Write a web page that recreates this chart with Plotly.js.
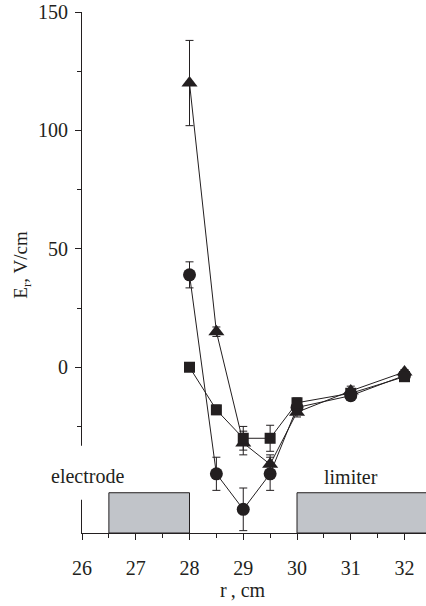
<!DOCTYPE html>
<html>
<head>
<meta charset="utf-8">
<script src="https://cdn.plot.ly/plotly-3.0.1.min.js"></script>
<style>
  html, body { margin: 0; padding: 0; background: #fff; }
  #chart { width: 426px; height: 606px; }
</style>
</head>
<body>
<div id="chart"></div>
<script>
// Radial electric field profile E_r(r) for three discharge regimes
const radius = [28, 28.5, 29, 29.5, 30, 31, 32];

const fieldCircles = [39, -45, -60, -45, -17, -12, -3.5];
const errCircles   = [5.5, 7, 9, 7, 2, 2, 1];

const fieldTriangles = [120, 15, -32, -41, -19, -10, -2];
const errTriangles   = [18, 2, 5, 4, 2, 2, 1];

const fieldSquares = [0, -18, -30, -30, -15, -11, -4];
const errSquares   = [1, 2, 5, 5.5, 2, 1, 1];

const xTickVals = [26, 27, 28, 29, 30, 31, 32];
const yTickVals = [0, 50, 100, 150];

// Positions of the electrode and the limiter along r
const electrodeSpan = [26.5, 28];
const limiterSpan = [30, 32.6];
const hardwareTop = -53;

const ink = '#231f20';
const serif = 'Liberation Serif, Times New Roman, serif';
const xRange = [26, 32.4];
const yRange = [-70, 150];

function series(y, err, symbol, size) {
  return {
    type: 'scatter', mode: 'lines+markers',
    x: radius, y: y,
    line: { color: ink, width: 1 },
    marker: { symbol: symbol, size: size, color: ink },
    error_y: { type: 'data', array: err, visible: true, color: ink, thickness: 1, width: 4 },
    showlegend: false, cliponaxis: false
  };
}

const traces = [
  series(fieldCircles, errCircles, 'circle', 13),
  series(fieldTriangles, errTriangles, 'triangle-up', 14),
  series(fieldSquares, errSquares, 'square', 11)
];

// y (data) -> paper fraction
const yp = v => (v - yRange[0]) / (yRange[1] - yRange[0]);

const layout = {
  width: 426, height: 606,
  margin: { l: 82, r: 0, t: 12, b: 73 },
  paper_bgcolor: '#fff', plot_bgcolor: '#fff',
  font: { family: serif, size: 20, color: ink },
  xaxis: {
    range: xRange, tickvals: xTickVals,
    showgrid: false, zeroline: false,
    showline: true, linecolor: ink, linewidth: 1,
    ticks: 'outside', ticklen: 6, tickwidth: 1, tickcolor: ink,
    ticklabelstandoff: 11,
    minor: { ticks: 'outside', ticklen: 4, tickwidth: 1, tickcolor: ink, dtick: 0.5, tick0: 26, showgrid: false },
    tickfont: { family: serif, size: 20, color: ink }
  },
  yaxis: {
    range: yRange, tickvals: yTickVals,
    showgrid: false, zeroline: false,
    showline: true, linecolor: ink, linewidth: 1,
    ticks: 'outside', ticklen: 6, tickwidth: 1, tickcolor: ink,
    ticklabelstandoff: 3,
    minor: { ticks: 'outside', ticklen: 4, tickwidth: 1, tickcolor: ink, dtick: 25, tick0: 0, showgrid: false },
    tickfont: { family: serif, size: 20, color: ink }
  },
  shapes: [
    { type: 'rect', xref: 'x', yref: 'y', layer: 'below',
      x0: electrodeSpan[0], x1: electrodeSpan[1], y0: yRange[0], y1: hardwareTop,
      fillcolor: '#c1c4c9', line: { color: ink, width: 1 } },
    { type: 'rect', xref: 'x', yref: 'y', layer: 'below',
      x0: limiterSpan[0], x1: limiterSpan[1], y0: yRange[0], y1: hardwareTop,
      fillcolor: '#c1c4c9', line: { color: ink, width: 1 } },
    // break in the vertical axis behind the "electrode" label
    { type: 'rect', xref: 'paper', yref: 'paper', layer: 'above',
      x0: -0.05, x1: 0.02, y0: yp(-56), y1: yp(-33.2),
      fillcolor: '#fff', line: { width: 0 } }
  ],
  annotations: [
    { text: 'electrode', xref: 'x', yref: 'y', x: 26.1, y: -46, showarrow: false,
      font: { family: serif, size: 20, color: ink } },
    { text: 'limiter', xref: 'x', yref: 'y', x: 31, y: -46.5, showarrow: false,
      font: { family: serif, size: 20, color: ink } },
    { text: 'r\u2009, cm', xref: 'x', yref: 'paper', x: 29, y: 0, yshift: -57,
      xanchor: 'center', yanchor: 'middle', showarrow: false,
      font: { family: serif, size: 20, color: ink } },
    { text: 'E<sub>r</sub>, V/cm', xref: 'paper', yref: 'paper', x: 0, xshift: -60, y: 0.515,
      xanchor: 'center', yanchor: 'middle',
      textangle: -90, showarrow: false, font: { family: serif, size: 19, color: ink } }
  ]
};

Plotly.newPlot('chart', traces, layout, { displayModeBar: false, staticPlot: true });
</script>
</body>
</html>
